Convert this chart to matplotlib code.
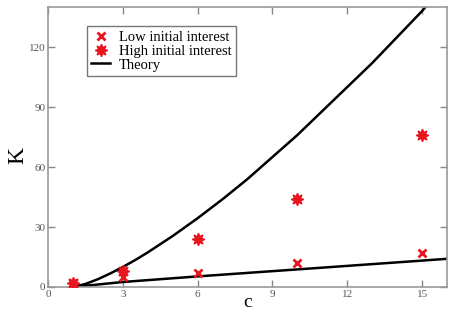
import matplotlib
matplotlib.use("Agg")
import matplotlib.pyplot as plt

# measured points
c_low = [1, 3, 6, 10, 15]
k_low = [2, 5, 7, 12, 17]
c_high = [1, 3, 6, 10, 15]
k_high = [2, 8, 24, 44, 76]

# theory curves
c_theory_hi = [1, 1.5, 2, 2.5, 3, 3.5, 4, 5, 6, 7, 8, 9, 10, 11, 12, 13, 14, 15, 15.2]
k_theory_hi = [0, 1.5, 3.9, 6.8, 10, 13.5, 17.3, 25.5, 34.4, 43.9, 54, 65, 76, 88, 100, 112, 125, 138, 141]
c_theory_lo = [1, 3, 6, 10, 15, 16]
k_theory_lo = [0, 2.5, 5.3, 8.8, 13.2, 14.1]

xticks = [0, 3, 6, 9, 12, 15]
yticks = [0, 30, 60, 90, 120]

plt.rcParams['font.family'] = ['Liberation Serif', 'DejaVu Serif']

fig = plt.figure(figsize=(4.55, 3.1), dpi=100)
ax = fig.add_axes([0.1055, 0.0742, 0.8769, 0.903])

ax.plot(c_theory_hi, k_theory_hi, color='black', lw=1.8, label='Theory', zorder=2)
ax.plot(c_theory_lo, k_theory_lo, color='black', lw=1.8, zorder=2)
ax.plot(c_low, k_low, ls='none', marker='x', color='#e8141e', ms=6, mew=2,
        label='Low initial interest', zorder=3)
ax.plot(c_high, k_high, ls='none', marker=(8, 1, 0), color='#e8141e', ms=9,
        label='High initial interest', zorder=3)

ax.set_xlim(0, 16)
ax.set_ylim(0, 140)
ax.set_xticks(xticks)
ax.set_yticks(yticks)
ax.tick_params(direction='in', top=True, right=True, length=5, width=1,
               color='#888888', labelcolor='#555555', labelsize=8, pad=2)
for s in ax.spines.values():
    s.set_color('#999999')
    s.set_linewidth(1.2)

ax.set_ylabel('K', fontsize=17)
ax.yaxis.set_label_coords(-0.05, 0.47)
ax.set_xlabel('c', fontsize=14, va='bottom')
ax.xaxis.set_label_coords(0.5, -0.085)

handles, labels = ax.get_legend_handles_labels()
order = [1, 2, 0]
leg = ax.legend([handles[i] for i in order], [labels[i] for i in order],
                loc='upper left', bbox_to_anchor=(0.098, 0.932), borderaxespad=0,
                fontsize=10.5, fancybox=False, framealpha=1, edgecolor='#777777',
                handlelength=1.3, handletextpad=0.6, labelspacing=0.05,
                borderpad=0.3)
leg.get_frame().set_linewidth(1.0)

fig.savefig('out.png', dpi=100)
